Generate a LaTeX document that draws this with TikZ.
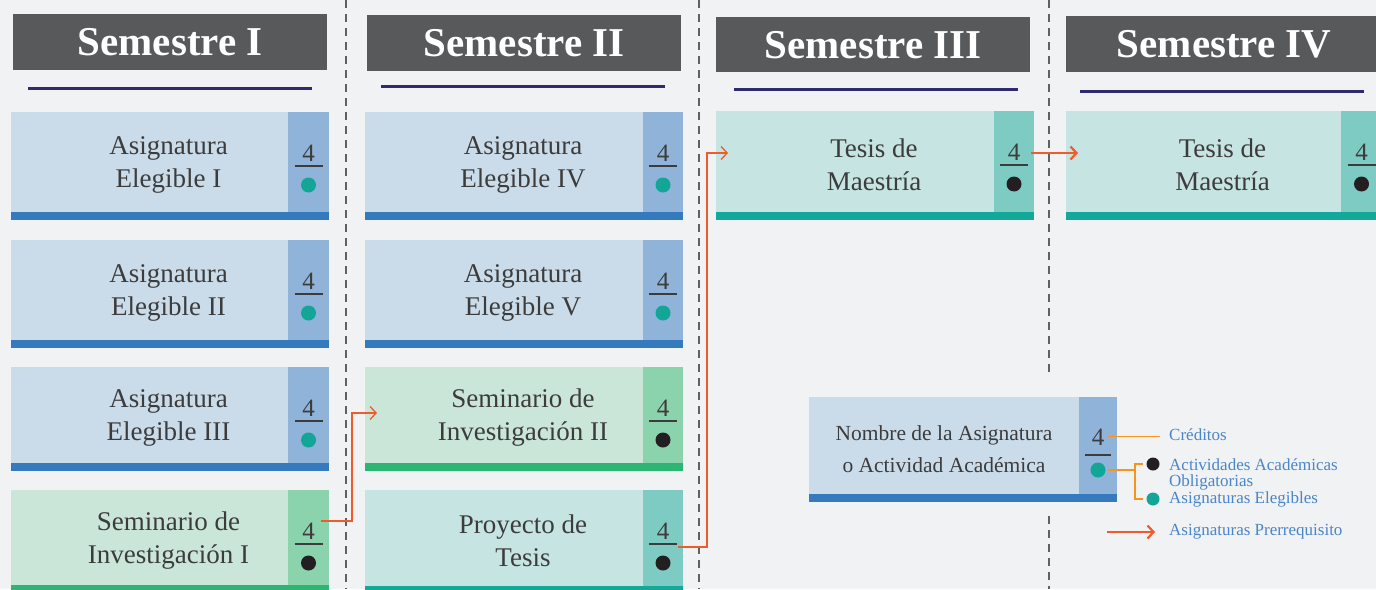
\documentclass[tikz,border=0pt]{standalone}
\usepackage{fontspec}
\setmainfont{Liberation Serif}
\usetikzlibrary{arrows.meta,calc}
\definecolor{bg}{HTML}{F1F2F4}
\definecolor{hdr}{HTML}{58595B}
\definecolor{ulinec}{HTML}{2E2C6E}
\definecolor{txt}{HTML}{3C3C3C}
\definecolor{bluebody}{HTML}{CADBEA}
\definecolor{bluestrip}{HTML}{8FB3D9}
\definecolor{bluebar}{HTML}{3579BF}
\definecolor{greenbody}{HTML}{CAE6D9}
\definecolor{greenstrip}{HTML}{8AD3AC}
\definecolor{greenbar}{HTML}{2DB574}
\definecolor{tealbody}{HTML}{C5E4E2}
\definecolor{tealstrip}{HTML}{7ECBC3}
\definecolor{tealbar}{HTML}{12A89A}
\definecolor{dotteal}{HTML}{13A596}
\definecolor{dotblack}{HTML}{231F20}
\definecolor{arrowc}{HTML}{F15A29}
\definecolor{bracketc}{HTML}{F7941D}
\definecolor{legtxt}{HTML}{4A86C8}
\definecolor{dashc}{HTML}{606060}
\tikzset{
  cardbody/.style={rectangle, draw=none, inner sep=0pt, outer sep=0pt, anchor=north west},
  cardtext/.style={align=center, text=txt, inner sep=0pt, font=\fontsize{27}{33}\selectfont},
  credit/.style={anchor=base, inner sep=0pt, text=txt, font=\fontsize{25}{25}\selectfont},
  dotnode/.style={circle, minimum size=15pt, inner sep=0pt, draw=none},
  fracline/.style={line width=1.5pt, draw=txt},
  hdrbox/.style={rectangle, anchor=north west, fill=hdr, text=white, inner sep=0pt,
    font=\bfseries\fontsize{41}{41}\selectfont},
  uline/.style={line width=3pt, draw=ulinec},
  dashline/.style={draw=dashc, line width=1.3pt, dash pattern=on 8pt off 6pt},
  prereq/.style={draw=arrowc, line width=1.3pt, -{Straight Barb[length=6pt,width=13pt]}},
  prereqthick/.style={draw=arrowc, line width=2.2pt, -{Straight Barb[length=6pt,width=13pt]}},
  bracket/.style={draw=bracketc, line width=1.3pt},
  legtext/.style={anchor=base west, inner sep=0pt, text=legtxt, align=left,
    font=\fontsize{17}{16}\selectfont},
}
% #1 name #2 kind #3 x1 #4 ytop #5 xstrip #6 x2 #7 height #8 text #9 dot colour
\newcommand\mycard[9]{%
  \node[cardbody, fill=#2body, minimum width={(#5-#3)*1pt}, minimum height={#7*1pt}] (#1) at (#3,#4) {};
  \node[cardbody, fill=#2strip, minimum width={(#6-#5)*1pt}, minimum height={#7*1pt}] (#1s) at (#5,#4) {};
  \node[cardbody, fill=#2bar, minimum width={(#6-#3)*1pt}, minimum height=8pt] (#1b) at (#3,#4+#7) {};
  \node[cardtext] (#1t) at ($(#1.center)+(19,3)$) {#8};
  \node[credit] (#1n) at ($(#1s.north)+(0,49)$) {4};
  \draw[fracline] ($(#1s.north)+(-14,54)$) -- ($(#1s.north)+(14,54)$);
  \node[dotnode, fill=#9] (#1d) at ($(#1s.north)+(0,73)$) {};
}
\begin{document}
\begin{tikzpicture}[x=1pt, y=-1pt]
\path[use as bounding box, fill=bg] (0,0) rectangle (1376,589);
% dashed separators
\draw[dashline] (346,0) -- (346,589);
\draw[dashline] (699,0) -- (699,589);
\draw[dashline] (1049,0) -- (1049,375);
\draw[dashline] (1049,516) -- (1049,589);
% headers
\node[hdrbox, minimum width=314pt, minimum height=56pt] (h1) at (13,14) {Semestre I};
\node[hdrbox, minimum width=314pt, minimum height=56pt] (h2) at (367,15) {Semestre II};
\node[hdrbox, minimum width=314pt, minimum height=55pt] (h3) at (716,17) {Semestre III};
\node[hdrbox, minimum width=316pt, minimum height=56pt] (h4) at (1066,16) {Semestre IV};
\draw[uline] ($(h1.south west)+(15,18)$) -- ($(h1.south east)+(-15,18)$);
\draw[uline] ($(h2.south west)+(14,15)$) -- ($(h2.south east)+(-16,15)$);
\draw[uline] ($(h3.south west)+(18,17)$) -- ($(h3.south east)+(-12,17)$);
\draw[uline] ($(h4.south west)+(14,19)$) -- ($(h4.south east)+(-18,19)$);
% column 1
\mycard{c11}{blue}{11}{112}{288}{329}{100}{Asignatura\\Elegible I}{dotteal}
\mycard{c12}{blue}{11}{240}{288}{329}{100}{Asignatura\\Elegible II}{dotteal}
\mycard{c13}{blue}{11}{367}{288}{329}{96}{Asignatura\\Elegible III}{dotteal}
\mycard{c14}{green}{11}{490}{288}{329}{95}{Seminario de\\Investigación I}{dotblack}
% column 2
\mycard{c21}{blue}{365}{112}{643}{683}{100}{Asignatura\\Elegible IV}{dotteal}
\mycard{c22}{blue}{365}{240}{643}{683}{100}{Asignatura\\Elegible V}{dotteal}
\mycard{c23}{green}{365}{367}{643}{683}{96}{Seminario de\\Investigación II}{dotblack}
\mycard{c24}{teal}{365}{490}{643}{683}{96}{Proyecto de\\Tesis}{dotblack}
% column 3
\mycard{c31}{teal}{716}{111}{994}{1034}{101}{Tesis de\\Maestría}{dotblack}
% column 4
\mycard{c41}{teal}{1066}{111}{1341}{1382}{101}{Tesis de\\Maestría}{dotblack}
% prerequisite arrows
\coordinate (a1s) at ($(c14s.north east)+(-8,31)$);
\coordinate (a1c) at ($(c23.north west)+(-13,46)$);
\coordinate (a1e) at ($(c23.north west)+(12,46)$);
\draw[prereq] (a1s) -| (a1c) -- (a1e);
\coordinate (a2s) at ($(c24s.north east)+(-5,57)$);
\coordinate (a2c) at ($(c31.north west)+(-9,42)$);
\coordinate (a2e) at ($(c31.north west)+(12,42)$);
\draw[prereq] (a2s) -| (a2c) -- (a2e);
\coordinate (a3s) at ($(c31s.north east)+(-3,42)$);
\coordinate (a3e) at ($(c41.north west)+(12,42)$);
\draw[prereqthick] (a3s) -- (a3e);
% legend card
\node[cardbody, fill=bluebody, minimum width=270pt, minimum height=97pt] (lg) at (809,397) {};
\node[cardbody, fill=bluestrip, minimum width=38pt, minimum height=97pt] (lgs) at (1079,397) {};
\node[cardbody, fill=bluebar, minimum width=308pt, minimum height=8pt] (lgb) at (809,494) {};
\node[cardtext, font=\fontsize{21.5}{32}\selectfont] (lgt) at ($(lg.center)+(0,4)$) {Nombre de la Asignatura\\o Actividad Académica};
\node[credit] (lgn) at ($(lgs.north)+(0,48)$) {4};
\draw[fracline] ($(lgs.north)+(-13,58)$) -- ($(lgs.north)+(13,58)$);
\node[dotnode, fill=dotteal] (lgd) at ($(lgs.north)+(0,73)$) {};
% legend labels
\node[legtext] (lc) at (1169,440) {Créditos};
\node[legtext] (lo) at (1169,486) {Actividades Académicas\\Obligatorias};
\node[legtext] (le) at (1169,503) {Asignaturas Elegibles};
\node[legtext] (lp) at (1169,535) {Asignaturas Prerrequisito};
\node[dotnode, minimum size=13pt, fill=dotblack] (ld1) at (1153,464) {};
\node[dotnode, minimum size=13pt, fill=dotteal] (ld2) at (1153,499) {};
\coordinate (lce) at ($(lc.base west)+(-9,0)$);
\draw[bracket] ([xshift=3pt]lgn.east) -- (lgn.east -| lce);
\coordinate (bk) at (1135,470);
\draw[bracket] ([xshift=2pt]lgd.east) -- (lgd.east -| bk);
\draw[bracket] ([xshift=-3pt]ld1.west) -| (bk) |- ([xshift=-3pt]ld2.west);
\coordinate (las) at (1107,532);
\coordinate (lae) at ($(lp.base west)+(-14,0)$);
\draw[prereqthick] (las) -- (las -| lae);
\end{tikzpicture}
\end{document}
